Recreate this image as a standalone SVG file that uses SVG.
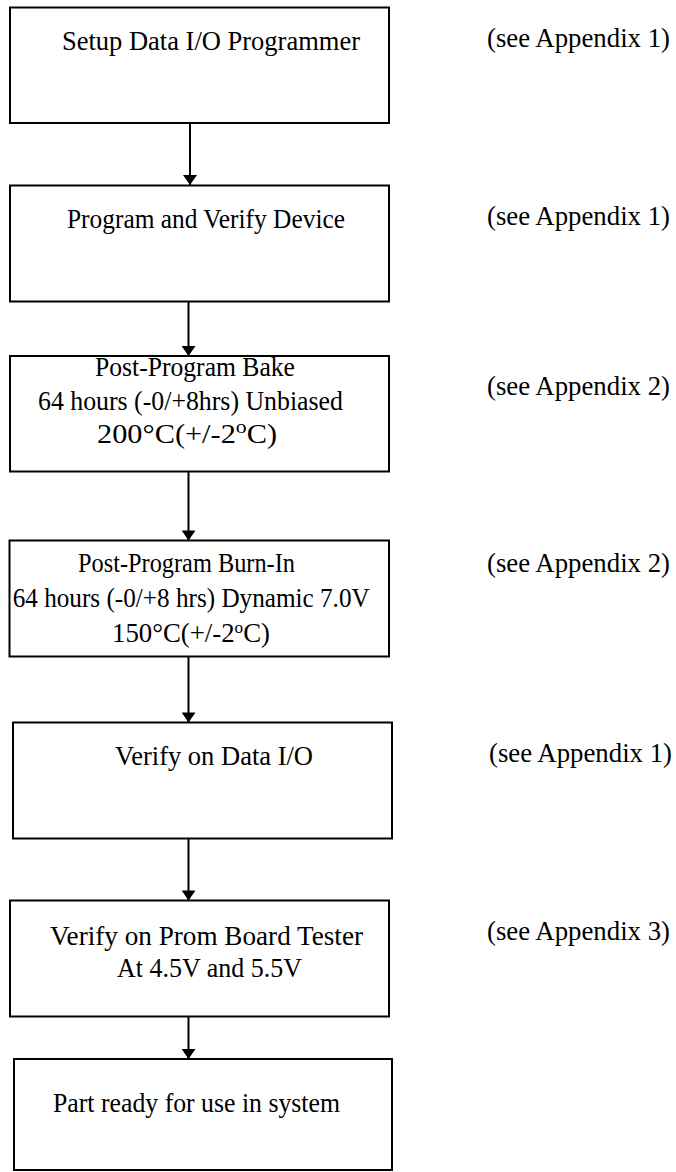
<svg xmlns="http://www.w3.org/2000/svg" width="676" height="1172" viewBox="0 0 676 1172">
<style>
.box{fill:#fff;stroke:#000;stroke-width:2}
.t{font-family:"Liberation Serif","Times New Roman",serif;font-size:26.6px;fill:#000}
.conn{stroke:#000;stroke-width:2;fill:none}
</style>
<defs>
<marker id="ah" markerWidth="18" markerHeight="14" refX="13" refY="9" orient="auto" markerUnits="userSpaceOnUse" viewBox="0 0 13 18">
<path d="M0,0 L13,9 L0,18 Z" fill="#000"/>
</marker>
</defs>
<rect width="676" height="1172" fill="#fff"/>
<g id="connectors">
<line class="conn" x1="190" y1="123" x2="190" y2="185" marker-end="url(#ah)"/>
<line class="conn" x1="188.5" y1="301.5" x2="188.5" y2="356" marker-end="url(#ah)"/>
<line class="conn" x1="188.5" y1="471.5" x2="188.5" y2="540.5" marker-end="url(#ah)"/>
<line class="conn" x1="188.5" y1="656.5" x2="188.5" y2="722.5" marker-end="url(#ah)"/>
<line class="conn" x1="188.5" y1="838.5" x2="188.5" y2="900.5" marker-end="url(#ah)"/>
<line class="conn" x1="188.5" y1="1016.5" x2="188.5" y2="1059" marker-end="url(#ah)"/>
</g>
<g id="node1">
<rect class="box" x="10" y="7.5" width="379" height="115.5"/>
<text class="t" x="62" y="50" font-size="26.5" textLength="298" lengthAdjust="spacingAndGlyphs">Setup Data I/O Programmer</text>
</g>
<g id="node2">
<rect class="box" x="10" y="185.5" width="379" height="116"/>
<text class="t" x="67" y="228" font-size="25.5" textLength="278" lengthAdjust="spacingAndGlyphs">Program and Verify Device</text>
</g>
<g id="node3">
<rect class="box" x="10" y="356" width="379" height="115.5"/>
<text class="t" x="95" y="376" font-size="25.5" textLength="200" lengthAdjust="spacingAndGlyphs">Post-Program Bake</text>
<text class="t" x="38" y="410" font-size="25.8" textLength="305" lengthAdjust="spacingAndGlyphs">64 hours (-0/+8hrs) Unbiased</text>
<text class="t" x="97" y="443" font-size="29" textLength="180" lengthAdjust="spacingAndGlyphs">200°C(+/-2<tspan baseline-shift="super" font-size="19">o</tspan>C)</text>
</g>
<g id="node4">
<rect class="box" x="9.5" y="540.5" width="379.5" height="116"/>
<text class="t" x="78" y="572" font-size="24.3" textLength="217" lengthAdjust="spacingAndGlyphs">Post-Program Burn-In</text>
<text class="t" x="12.7" y="607" font-size="25.2" textLength="357" lengthAdjust="spacingAndGlyphs">64 hours (-0/+8 hrs) Dynamic 7.0V</text>
<text class="t" x="112" y="642" font-size="27" textLength="158" lengthAdjust="spacingAndGlyphs">150°C(+/-2<tspan baseline-shift="super" font-size="17">o</tspan>C)</text>
</g>
<g id="node5">
<rect class="box" x="13" y="722.5" width="379" height="116"/>
<text class="t" x="115" y="765" font-size="26.1" textLength="198" lengthAdjust="spacingAndGlyphs">Verify on Data I/O</text>
</g>
<g id="node6">
<rect class="box" x="10" y="900.5" width="379" height="116"/>
<text class="t" x="50" y="945" font-size="26.7" textLength="313" lengthAdjust="spacingAndGlyphs">Verify on Prom Board Tester</text>
<text class="t" x="117" y="977" font-size="25.9" textLength="185" lengthAdjust="spacingAndGlyphs">At 4.5V and 5.5V</text>
</g>
<g id="node7">
<rect class="box" x="14" y="1059" width="378" height="111"/>
<text class="t" x="53" y="1112" font-size="25.8" textLength="287" lengthAdjust="spacingAndGlyphs">Part ready for use in system</text>
</g>
<g id="labels">
<text class="t" x="487" y="47" textLength="183" lengthAdjust="spacingAndGlyphs">(see Appendix 1)</text>
<text class="t" x="487" y="225" textLength="183" lengthAdjust="spacingAndGlyphs">(see Appendix 1)</text>
<text class="t" x="487" y="395" textLength="183" lengthAdjust="spacingAndGlyphs">(see Appendix 2)</text>
<text class="t" x="487" y="572" textLength="183" lengthAdjust="spacingAndGlyphs">(see Appendix 2)</text>
<text class="t" x="489" y="762" textLength="183" lengthAdjust="spacingAndGlyphs">(see Appendix 1)</text>
<text class="t" x="487" y="940" textLength="183" lengthAdjust="spacingAndGlyphs">(see Appendix 3)</text>
</g>
</svg>
